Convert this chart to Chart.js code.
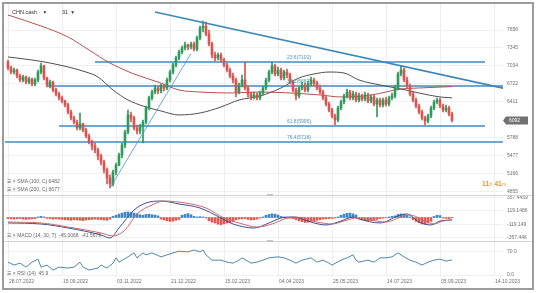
<!DOCTYPE html>
<html><head><meta charset="utf-8">
<script src="https://cdn.jsdelivr.net/npm/chart.js@4.4.1/dist/chart.umd.min.js"></script>
<style>
body{margin:0;background:#fff;}
#wrap{position:relative;width:536px;height:293px;overflow:hidden;background:#fff;font-family:"Liberation Sans","DejaVu Sans",Arial,sans-serif;}
canvas{position:absolute;left:0;}
.t{position:absolute;white-space:nowrap;font-size:5px;color:#666;line-height:6px;}
</style></head><body>
<div id="wrap">
<canvas id="cMain" width="536" height="191" style="top:4px"></canvas>
<canvas id="cMacd" width="536" height="46" style="top:195px"></canvas>
<canvas id="cRsi" width="536" height="48" style="top:241px"></canvas>
<div style="position:absolute;left:4px;top:195px;width:528px;height:0;border-top:1px solid #d3d3d3"></div>
<div style="position:absolute;left:267px;top:194px;width:6px;height:2px;background:#c4c4c4"></div>
<div style="position:absolute;left:4px;top:241px;width:528px;height:0;border-top:1px solid #d3d3d3"></div>
<div style="position:absolute;left:267px;top:240px;width:6px;height:2px;background:#c4c4c4"></div>
<div style="position:absolute;left:2px;top:2px;width:528px;height:284px;border:2px solid #9c9c9c"></div>
<div class="t" style="left:12px;top:9px;font-size:5.5px;color:#333">CHN.cash <span style="color:#999">◦</span>&nbsp; ▾</div>
<div class="t" style="left:62px;top:9px;font-size:5.5px;color:#333">31 &nbsp;▾</div>
<div class="t" style="left:7px;top:178px">☰ × SMA (100; C) 6482</div>
<div class="t" style="left:7px;top:186px">☰ × SMA (200; C) 6677</div>
<div class="t" style="left:7px;top:232px">☰ × MACD (14, 30, 7) &nbsp;-45.0068 &nbsp;-41.5679</div>
<div class="t" style="left:7px;top:270px">☰ × RSI (14) &nbsp;45.9</div>
<div class="t" style="left:482px;top:180px;font-size:7px;line-height:8px;color:#e59a3a"><b>11</b><span style="font-size:5px">h</span> <b>41</b><span style="font-size:5px">m</span></div>
</div>
<script>
// ---------- data ----------
const dateLabels = ['28.07.2022','15.09.2022','03.11.2022','21.12.2022','15.02.2023','04.04.2023','25.05.2023','14.07.2023','05.09.2023','14.10.2023'];
const dateIndex = [1,19,37,55,73,91,109,127,145,163];
const priceTicks = [7656,7345,7034,6722,6411,5788,5477,5166,4855];
const macdTicks = [357.4459,119.1486,-119.149,-357.446];
const macdTickLabels = ['357.4459','119.1486','-119.149','-357.446'];
const rsiTicks = [70,0];
const rsiTickLabels = ['70.0','0.0'];
const lastPrice = 6092;

const openP = [7102,6999,6929,6964,6860,6791,6843,6756,6808,6722,
6791,6929,7033,6826,6705,6756,6618,6549,6480,6428,
6359,6237,6134,6064,5961,6030,5926,5822,5718,5649,
5580,5476,5372,5234,5096,4992,5199,5321,5494,5667,
5891,6186,6134,5961,5909,5995,6064,6307,6480,6583,
6653,6601,6687,6653,6791,6929,7051,7172,7275,7345,
7397,7362,7414,7327,7518,7691,7725,7587,7414,7224,
7172,7224,7137,7051,6964,6860,6791,6583,6705,6791,
6653,6549,6497,6532,6480,6566,6653,6791,6929,7033,
6895,6964,6826,6929,6878,6756,6618,6514,6653,6705,
6618,6722,6791,6739,6653,6583,6480,6376,6272,6168,
6099,6307,6410,6514,6583,6480,6549,6445,6514,6462,
6532,6428,6497,6376,6445,6359,6445,6376,6480,6514,
6653,6895,6964,6791,6687,6549,6445,6341,6237,6134,
6082,6168,6307,6410,6445,6341,6272,6307,6203];
const closeP = [6999,6929,6964,6860,6791,6843,6756,6808,6722,6791,
6929,7033,6826,6705,6756,6618,6549,6480,6428,6359,
6237,6134,6064,5961,6030,5926,5822,5718,5649,5580,
5476,5372,5234,5096,4992,5199,5321,5494,5667,5891,
6186,6134,5961,5909,5995,6064,6307,6480,6583,6653,
6601,6687,6653,6791,6929,7051,7172,7275,7345,7397,
7362,7414,7327,7518,7691,7725,7587,7414,7224,7172,
7224,7137,7051,6964,6860,6791,6583,6705,6791,6653,
6549,6497,6532,6480,6566,6653,6791,6929,7033,6895,
6964,6826,6929,6878,6756,6618,6514,6653,6705,6618,
6722,6791,6739,6653,6583,6480,6376,6272,6168,6099,
6307,6410,6514,6583,6480,6549,6445,6514,6462,6532,
6428,6497,6376,6445,6359,6445,6376,6480,6514,6653,
6895,6964,6791,6687,6549,6445,6341,6237,6134,6082,
6168,6307,6410,6445,6341,6272,6307,6203,6092];
const highP = [7137,7033,6999,6981,6895,6878,6860,6843,6826,6826,
6964,7085,7051,6843,6791,6774,6653,6583,6514,6445,
6393,6272,6168,6099,6220,6047,5961,5857,5753,5701,
5615,5511,5407,5269,5148,5234,5355,5528,5701,5926,
6272,6237,6168,6013,6030,6099,6341,6514,6618,6705,
6687,6722,6722,6826,6964,7085,7206,7310,7379,7448,
7414,7448,7448,7552,7725,7812,7794,7656,7448,7275,
7258,7258,7172,7085,6999,6912,6826,6739,6878,7102,
6687,6583,6583,6566,6601,6687,6826,6964,7102,7068,
7016,6999,6964,6981,6912,6791,6653,6687,6756,6739,
6774,6843,6826,6774,6705,6618,6514,6410,6307,6203,
6341,6445,6549,6635,6618,6601,6583,6566,6549,6583,
6566,6532,6532,6480,6480,6480,6497,6514,6566,6705,
6929,7033,6999,6843,6722,6583,6480,6376,6272,6168,
6203,6341,6445,6480,6480,6376,6359,6341,6237];
const lowP = [6964,6895,6895,6826,6756,6756,6722,6722,6687,6687,
6756,6895,6791,6670,6653,6583,6514,6445,6393,6324,
6203,6099,6030,5926,5926,5891,5788,5684,5580,5528,
5407,5321,5182,4992,4923,4958,5148,5303,5442,5615,
5857,6064,5926,5857,5857,5701,6030,6272,6445,6549,
6549,6566,6601,6618,6756,6895,7016,7137,7241,7310,
7310,7327,7293,7293,7483,7621,7552,7379,7172,7120,
7137,7102,7016,6929,6826,6739,6497,6549,6670,6618,
6497,6445,6462,6445,6445,6532,6618,6756,6895,6860,
6860,6791,6791,6826,6722,6583,6445,6480,6618,6583,
6583,6687,6687,6618,6549,6445,6341,6237,6134,6013,
6064,6272,6376,6480,6445,6445,6410,6410,6428,6428,
6393,6393,6341,6151,6324,6324,6341,6341,6445,6480,
6618,6860,6756,6653,6514,6410,6307,6203,6099,6013,
6047,6134,6272,6376,6307,6237,6237,6168,6064];

const sma100Idx = [1,9,15,21,27,31,36,41,46,52,58,65,72,78,85,92,98,103,108,113,118,125,132,138,145,149];
const sma100Val = [7189,7137,7085,7016,6929,6843,6618,6445,6341,6255,6186,6220,6324,6445,6514,6653,6826,6895,6929,6912,6791,6705,6635,6566,6497,6482];
const sma200Idx = [1,12,21,28,35,43,51,58,65,75,85,95,105,112,122,132,138,149];
const sma200Val = [7916,7725,7535,7310,7085,6895,6756,6618,6583,6566,6583,6566,6532,6497,6532,6635,6653,6677];

const fibLevels = [7102,6687,5995,5718];
const fibNames = ['23.6','38.2','61.8','76.4'];
const fibFrom = [30,14,18,0];
const fibTo = [160,166,160,166];
const fibLabelIdx = 98;
const trendDownIdx = [50,166];
const trendDownVal = [7967,6650];
const trendUpIdx = [35,62];
const trendUpVal = [4923,7249];

const histVal = [-20,-25,-30,-25,-20,-30,-35,-30,-25,-20,
10,20,10,
-15,-20,-30,-25,-30,-35,-40,
-45,-50,-40,-45,-50,-55,-45,-40,-35,-30,
-35,-40,-45,-50,-30,
20,40,60,80,95,100,90,80,70,50,
40,55,60,50,45,30,
-30,-45,-60,-70,-65,-50,-35,
40,55,70,50,
20,10,15,10,-10,
-60,-85,-100,-120,-130,-115,-100,-90,-70,
-40,-30,-25,-20,
-35,-45,-40,-30,
-10,10,
40,55,65,60,45,
20,10,-10,-15,-20,
-40,-60,-75,-90,-85,-70,-60,-50,-40,
-30,-25,-20,-15,-10,10,
40,60,75,80,65,45,
-20,-40,-55,-60,-55,-45,-35,-20,
-10,-5,10,20,30,
55,65,60,40,
10,
-40,-70,-95,-115,-120,-100,-70,
20,40,35,
-10,-15,-20,-5];
const macdIdx = [1,12,21,32,35,38,43,47,52,58,65,72,76,83,88,92,96,103,107,112,116,118,125,131,134,138,142,145,149];
const macdVal = [-98,-116,-188,-313,-367,-188,134,260,295,242,170,-9,-116,-188,-98,-9,9,-98,-134,-63,9,-27,-98,27,63,-81,-134,-63,-45];
const signalIdx = [1,12,21,32,36,40,44,49,53,60,67,73,78,84,90,93,97,104,109,113,117,120,127,132,135,140,143,146,149];
const signalVal = [-81,-98,-170,-277,-331,-224,63,224,295,260,170,-9,-98,-170,-98,-27,9,-81,-116,-63,-9,-27,-81,9,45,-63,-116,-63,-42];

const rsiIdx = [1,3,5,7,9,11,12,14,16,18,21,23,25,26,28,31,32,34,36,37,38,41,43,44,46,47,49,52,54,56,58,61,63,65,66,67,69,72,74,76,78,79,82,84,86,88,91,93,95,97,99,102,104,106,108,109,112,114,116,117,118,121,123,125,127,129,131,133,135,137,139,141,143,145,147,149];
const rsiVal = [39,30,36,24,39,48,24,30,15,24,21,24,39,24,15,21,30,21,36,52,39,55,67,52,67,61,67,55,61,67,72,70,76,70,76,61,45,45,39,36,45,52,36,39,45,52,55,52,45,36,45,52,39,45,36,30,45,52,61,45,39,45,39,52,52,55,67,55,45,39,30,39,45,48,42,45.9];

// ---------- helpers ----------
const pts = (xs, ys) => xs.map((x, i) => ({x, y: ys[i]}));
const bull = '#2f9a5c', bear = '#d9534f';
const candleCol = closeP.map((c, i) => c >= openP[i] ? bull : bear);
const FONT = '5px "Liberation Sans", Arial, sans-serif';

const textPlugin = {
  id: 'textPlugin',
  afterDatasetsDraw(chart, args, o) {
    const {ctx, chartArea: a, scales: {x, y}} = chart;
    ctx.save();
    ctx.font = FONT;
    ctx.fillStyle = '#6f6f6f';
    ctx.textAlign = 'left';
    ctx.textBaseline = 'middle';
    (o.yTicks || []).forEach((v, i) => ctx.fillText(o.yText[i], a.right + 4, y.getPixelForValue(v)));
    if (o.dates) {
      ctx.textBaseline = 'top';
      dateIndex.forEach((d, i) => ctx.fillText(dateLabels[i], x.getPixelForValue(d) + 1, a.bottom + 2));
    }
    if (o.fib) {
      ctx.fillStyle = '#5b8fb3';
      ctx.textAlign = 'center';
      ctx.textBaseline = 'bottom';
      fibLevels.forEach((v, i) => ctx.fillText(fibNames[i] + '(' + v + ')', x.getPixelForValue(fibLabelIdx), y.getPixelForValue(v) - 1.5));
    }
    if (o.tag) {
      const yp = y.getPixelForValue(lastPrice);
      ctx.fillStyle = '#727272';
      ctx.beginPath();
      ctx.moveTo(a.right, yp); ctx.lineTo(a.right + 3, yp - 4); ctx.lineTo(a.right + 25, yp - 4);
      ctx.lineTo(a.right + 25, yp + 4); ctx.lineTo(a.right + 3, yp + 4); ctx.closePath(); ctx.fill();
      ctx.fillStyle = '#ffffff';
      ctx.textAlign = 'left'; ctx.textBaseline = 'middle';
      ctx.fillText(String(lastPrice), a.right + 6, yp);
    }
    ctx.restore();
  }
};

function xScale() {
  return {
    type: 'linear', min: 0, max: 166, offset: false,
    ticks: {display: false},
    grid: {color: '#eeeeee', drawTicks: false, offset: false},
    border: {display: false},
    afterBuildTicks: s => { s.ticks = dateIndex.map(v => ({value: v})); }
  };
}
function yScale(min, max, ticks) {
  return {
    position: 'right', min, max,
    ticks: {display: false},
    grid: {color: '#f0f0f0', drawTicks: false},
    border: {display: false},
    afterFit: s => { s.width = 33; },
    afterBuildTicks: s => { s.ticks = ticks.map(v => ({value: v})); }
  };
}
function baseOpts(min, max, ticks, yText, extra, padBottom) {
  return {
    responsive: false, animation: false, devicePixelRatio: 1,
    layout: {padding: {left: 5, right: 0, top: 0, bottom: padBottom || 0}},
    plugins: {legend: {display: false}, tooltip: {enabled: false},
      textPlugin: Object.assign({yTicks: ticks, yText: yText}, extra)},
    scales: {x: xScale(), y: yScale(min, max, ticks)}
  };
}
const line = (data, color, width, order, tension) => ({
  type: 'line', data, borderColor: color, borderWidth: width, pointRadius: 0,
  tension: tension || 0, cubicInterpolationMode: tension ? 'monotone' : 'default', order
});

// ---------- main price chart ----------
const mainDatasets = [
  {type: 'bar', data: closeP.map((c, i) => ({x: i + 1, y: [lowP[i], highP[i]]})), backgroundColor: candleCol, barThickness: 1, grouped: false, order: 6},
  {type: 'bar', data: closeP.map((c, i) => ({x: i + 1, y: [openP[i], closeP[i]]})), backgroundColor: candleCol, barThickness: 2, grouped: false, order: 5},
  line(pts(sma100Idx, sma100Val), '#505050', 1, 8, 0.4),
  line(pts(sma200Idx, sma200Val), '#b5524f', 1, 8, 0.4),
  line(pts(trendDownIdx, trendDownVal), '#3a87b8', 1.6, 1),
  line(pts(trendUpIdx, trendUpVal), '#4a93c2', 0.8, 1)
];
fibLevels.forEach((v, i) => mainDatasets.push(line([{x: fibFrom[i], y: v}, {x: fibTo[i], y: v}], '#3f8bbb', 1.3, 10)));

new Chart(document.getElementById('cMain'), {
  type: 'bar',
  data: {datasets: mainDatasets},
  options: baseOpts(4801, 8106, priceTicks, priceTicks.map(String), {fib: true, tag: true}),
  plugins: [textPlugin]
});

// ---------- MACD ----------
new Chart(document.getElementById('cMacd'), {
  type: 'bar',
  data: {datasets: [
    {type: 'bar', data: histVal.map((v, i) => ({x: i + 1, y: v})), backgroundColor: histVal.map(v => v >= 0 ? '#3f86c3' : '#dd5a50'), barThickness: 2, grouped: false, order: 5},
    line(pts(macdIdx, macdVal), '#3e4f93', 1, 2, 0.4),
    line(pts(signalIdx, signalVal), '#d0686a', 1, 1, 0.4)
  ]},
  options: baseOpts(-421, 403, macdTicks, macdTickLabels, {}),
  plugins: [textPlugin]
});

// ---------- RSI ----------
new Chart(document.getElementById('cRsi'), {
  type: 'bar',
  data: {datasets: [line(pts(rsiIdx, rsiVal), '#4f86b0', 1, 1)]},
  options: baseOpts(-6.06, 103.03, rsiTicks, rsiTickLabels, {dates: true}, 12),
  plugins: [textPlugin]
});
</script>
</body></html>
